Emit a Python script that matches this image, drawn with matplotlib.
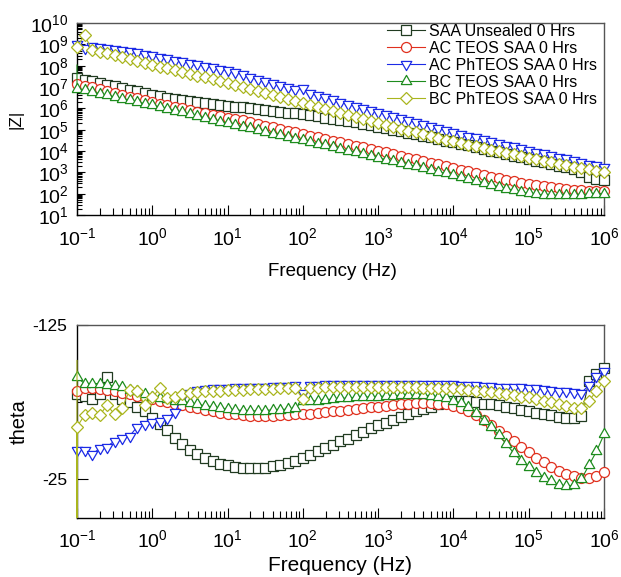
import numpy as np
import matplotlib
matplotlib.use("Agg")
import matplotlib.pyplot as plt
from matplotlib.lines import Line2D
from matplotlib.ticker import FixedLocator, NullFormatter

plt.rcParams['font.family'] = ['Liberation Sans', 'DejaVu Sans']
plt.rcParams['mathtext.fontset'] = 'custom'
plt.rcParams['mathtext.rm'] = 'Liberation Sans'
plt.rcParams['mathtext.it'] = 'Liberation Sans:italic'
plt.rcParams['mathtext.bf'] = 'Liberation Sans:bold'
plt.rcParams['axes.unicode_minus'] = False

# frequency sweep, 10 points per decade, 0.1 Hz .. 1 MHz
freq = np.logspace(-1, 6, 71)

series_labels = ['SAA Unsealed 0 Hrs', 'AC TEOS SAA 0 Hrs', 'AC PhTEOS SAA 0 Hrs',
                 'BC TEOS SAA 0 Hrs', 'BC PhTEOS SAA 0 Hrs']

# log10 |Z|
logz_saa_unsealed = [7.42, 7.35, 7.27, 7.19, 7.11, 7.03, 6.95, 6.87, 6.79, 6.70,
                     6.62, 6.56, 6.50, 6.45, 6.40, 6.35, 6.30, 6.25, 6.20, 6.16,
                     6.12, 6.08, 6.04, 6.00, 5.96, 5.92, 5.88, 5.84, 5.80, 5.76,
                     5.72, 5.67, 5.62, 5.57, 5.52, 5.46, 5.40, 5.34, 5.27, 5.20,
                     5.13, 5.06, 4.99, 4.92, 4.85, 4.78, 4.71, 4.64, 4.56, 4.49,
                     4.42, 4.34, 4.26, 4.18, 4.10, 4.02, 3.94, 3.86, 3.78, 3.70,
                     3.62, 3.55, 3.48, 3.40, 3.32, 3.24, 3.15, 3.00, 2.80, 2.68,
                     2.64]
logz_ac_teos = [7.14, 7.06, 6.98, 6.89, 6.81, 6.72, 6.64, 6.55, 6.47, 6.38,
                6.30, 6.22, 6.15, 6.07, 6.00, 5.92, 5.85, 5.78, 5.71, 5.64,
                5.57, 5.50, 5.43, 5.35, 5.27, 5.19, 5.11, 5.03, 4.95, 4.88,
                4.80, 4.72, 4.64, 4.56, 4.48, 4.41, 4.33, 4.25, 4.17, 4.10,
                4.02, 3.94, 3.85, 3.77, 3.69, 3.61, 3.53, 3.45, 3.37, 3.28,
                3.20, 3.12, 3.04, 2.96, 2.88, 2.80, 2.73, 2.66, 2.59, 2.52,
                2.45, 2.39, 2.34, 2.29, 2.25, 2.21, 2.18, 2.16, 2.14, 2.13,
                2.12]
logz_ac_phteos = [9.00, 8.82, 8.93, 8.89, 8.85, 8.80, 8.74, 8.68, 8.62, 8.55,
                  8.48, 8.41, 8.34, 8.27, 8.20, 8.13, 8.06, 7.99, 7.92, 7.85,
                  7.78, 7.69, 7.59, 7.49, 7.39, 7.29, 7.19, 7.09, 6.99, 6.90,
                  6.95, 6.72, 6.62, 6.52, 6.42, 6.32, 6.22, 6.12, 6.03, 5.93,
                  5.84, 5.74, 5.65, 5.55, 5.46, 5.37, 5.27, 5.18, 5.09, 4.99,
                  4.90, 4.81, 4.72, 4.64, 4.55, 4.47, 4.38, 4.30, 4.22, 4.13,
                  4.05, 3.97, 3.89, 3.81, 3.73, 3.65, 3.57, 3.49, 3.41, 3.33,
                  3.25]
logz_bc_teos = [6.92, 6.85, 6.77, 6.69, 6.61, 6.53, 6.46, 6.38, 6.30, 6.22,
                6.15, 6.06, 5.98, 5.89, 5.81, 5.72, 5.64, 5.55, 5.47, 5.38,
                5.30, 5.22, 5.14, 5.06, 4.98, 4.90, 4.82, 4.74, 4.66, 4.58,
                4.50, 4.42, 4.34, 4.26, 4.17, 4.09, 4.01, 3.93, 3.84, 3.76,
                3.68, 3.60, 3.52, 3.44, 3.36, 3.28, 3.19, 3.11, 3.03, 2.95,
                2.87, 2.78, 2.69, 2.60, 2.51, 2.42, 2.33, 2.24, 2.16, 2.08,
                2.01, 1.97, 1.94, 1.92, 1.92, 1.92, 1.93, 1.95, 1.97, 1.99,
                2.00]
logz_bc_phteos = [8.87, 9.44, 8.73, 8.66, 8.58, 8.49, 8.40, 8.31, 8.22, 8.13,
                  8.04, 7.96, 7.87, 7.79, 7.70, 7.62, 7.53, 7.45, 7.37, 7.28,
                  7.20, 7.11, 7.02, 6.92, 6.83, 6.74, 6.64, 6.55, 6.46, 6.36,
                  6.27, 6.17, 6.07, 5.98, 5.88, 5.78, 5.69, 5.59, 5.49, 5.40,
                  5.30, 5.21, 5.13, 5.04, 4.96, 4.87, 4.79, 4.70, 4.62, 4.53,
                  4.45, 4.37, 4.30, 4.22, 4.14, 4.07, 3.99, 3.91, 3.84, 3.76,
                  3.68, 3.61, 3.54, 3.47, 3.41, 3.34, 3.27, 3.20, 3.14, 3.07,
                  3.00]

# extra readings recorded at 0.1 Hz (drawn as line only)
logz_lead = [[], [], [], [8.03], []]

# phase angle (theta)
theta_saa_unsealed = [-80, -79, -77, -80, -91, -80, -77, -75, -72, -69,
                      -65, -61, -57, -52, -47.5, -44, -41, -38.5, -36.5, -35,
                      -34, -33, -32.5, -32, -32, -32.5, -33.5, -34.5, -35.5, -37,
                      -38.5, -40.5, -43, -45, -47, -49.5, -51, -53.5, -55.5, -58,
                      -60, -61.5, -63.5, -65.5, -67.5, -69, -70.5, -72, -73.5, -74.5,
                      -75.5, -76, -75.5, -75, -74, -73.5, -73, -72, -71, -70,
                      -69, -68, -67.5, -66.5, -65.5, -65, -65, -66, -89, -93,
                      -97]
theta_ac_teos = [-82, -84, -84, -83.5, -83, -82, -81, -80, -79, -78,
                 -77, -76, -75, -74, -73, -72, -71, -70, -69, -68,
                 -67.5, -67, -66.5, -66, -66, -66, -66, -66.5, -66.5, -67,
                 -67, -67.5, -68, -68.5, -69, -69.5, -70, -70.5, -71, -71.5,
                 -72, -72.5, -73, -73.5, -74, -74.5, -74.5, -74.5, -74, -73.5,
                 -72.5, -71, -69, -66.5, -63.5, -60, -56.5, -53, -49.5, -46,
                 -42.5, -39, -36, -33, -30.5, -28.5, -27, -26, -26, -27,
                 -29.5]
theta_ac_phteos = [-44, -44, -41, -45, -46, -50, -52, -53, -59, -61,
                   -62, -63, -64.5, -68.5, -78, -81, -83, -83.5, -84, -84,
                   -84, -84.5, -84.5, -85, -85, -85, -85.5, -85.5, -85.5, -86,
                   -81, -86, -86, -86.5, -86.5, -86.5, -86.5, -87, -87, -87,
                   -87, -87, -87, -87, -87, -87, -87, -86.5, -86.5, -86.5,
                   -86.5, -86, -86, -86, -85.5, -85.5, -85, -85, -84.5, -84.5,
                   -84, -84, -83.5, -83, -82.5, -82, -81.5, -81, -86, -92,
                   -95]
theta_bc_teos = [-91, -87, -87, -87, -86, -85.5, -84.5, -83, -82, -80,
                 -78, -77.5, -77, -76, -75.5, -74.5, -73.5, -72.5, -72, -71,
                 -70.5, -70, -69.5, -69, -69.5, -69.5, -70, -70, -70.5, -71,
                 -76, -75.5, -76, -76.5, -77, -77.5, -77.5, -78, -78, -78.5,
                 -78.5, -79, -79, -79.5, -79.5, -79.5, -79.5, -79, -78.5, -77.5,
                 -76, -74.5, -72, -68, -63, -59, -53.5, -48, -42, -37,
                 -33, -29, -26, -23.5, -21.5, -20.5, -21, -25, -34, -43,
                 -54]
theta_bc_phteos = [-59, -66.5, -68, -66.5, -73, -67, -71, -83, -82, -73,
                   -78, -84, -77.5, -78, -80, -81, -81.5, -82, -82.5, -82.5,
                   -83, -83, -83, -83.5, -83.5, -83.5, -83.5, -84, -84, -84,
                   -77, -84, -84, -84.5, -84.5, -84.5, -84.5, -84.5, -84.5, -84.5,
                   -84.5, -84.5, -84.5, -84.5, -84.5, -84.5, -84, -84, -84, -84,
                   -84, -83.5, -83, -82.5, -82, -81.5, -81, -80.5, -79.5, -78.5,
                   -78, -77, -76, -75, -74, -72.5, -71, -71, -76, -82,
                   -89]

theta_lead = [[], [], [-33], [], [-102, 0]]

logz_all = [logz_saa_unsealed, logz_ac_teos, logz_ac_phteos, logz_bc_teos, logz_bc_phteos]
theta_all = [theta_saa_unsealed, theta_ac_teos, theta_ac_phteos, theta_bc_teos, theta_bc_phteos]

# decade ticks
x_decades = [1e-1, 1e0, 1e1, 1e2, 1e3, 1e4, 1e5, 1e6]
z_decades = [1e1, 1e2, 1e3, 1e4, 1e5, 1e6, 1e7, 1e8, 1e9, 1e10]

# triangles centred on their centroid
s3 = np.sqrt(3.0)
tri_up = [(-1, -1 / s3), (1, -1 / s3), (0, 2 / s3), (-1, -1 / s3)]
tri_down = [(x, -y) for x, y in tri_up]

colors = ['#213b21', '#e0301e', '#1c2be6', '#1e8c1e', '#a9b51e']
markers = ['s', 'o', tri_down, tri_up, 'D']
msizes = [7.2, 7.2, 8.8, 8.8, 5.7]


def minor_between(decades):
    out = []
    for d in decades[:-1]:
        out += [d * m for m in range(2, 10)]
    return out


def draw_series(ax, lead, values, k):
    x = [freq[0]] * len(lead) + list(freq)
    y = list(lead) + list(values)
    ax.plot(x, y, color=colors[k], lw=0.8, marker=markers[k], ms=msizes[k],
            mfc='white', mec=colors[k], mew=0.9,
            markevery=list(range(len(lead), len(y))), clip_on=False, zorder=3)


def style_axes(ax):
    for side in ['top', 'right']:
        ax.spines[side].set_color('#555555')
    for side in ax.spines:
        ax.spines[side].set_linewidth(1.0)
    ax.tick_params(which='both', direction='in', top=False, right=False, width=0.8)
    ax.set_xscale('log')
    ax.set_xlim(0.1, 1e6)
    ax.xaxis.set_major_locator(FixedLocator(x_decades))
    ax.xaxis.set_minor_locator(FixedLocator(minor_between(x_decades)))
    ax.xaxis.set_minor_formatter(NullFormatter())
    ax.tick_params(axis='x', which='major', length=7.5, pad=8.5, labelsize=14)
    ax.tick_params(axis='x', which='minor', length=5)


fig = plt.figure(figsize=(6.21, 5.77), dpi=100)
ax1 = fig.add_axes([0.124, 0.6274, 0.8486, 0.3327])
ax2 = fig.add_axes([0.124, 0.1028, 0.8486, 0.3339])

# |Z| panel
for k in range(5):
    draw_series(ax1, [10 ** v for v in logz_lead[k]], [10 ** v for v in logz_all[k]], k)
style_axes(ax1)
ax1.set_yscale('log')
ax1.set_ylim(10, 1e10)
ax1.yaxis.set_major_locator(FixedLocator(z_decades))
ax1.yaxis.set_minor_locator(FixedLocator(minor_between(z_decades)))
ax1.yaxis.set_minor_formatter(NullFormatter())
ax1.tick_params(axis='y', which='major', length=6, pad=6, labelsize=14)
ax1.tick_params(axis='y', which='minor', length=3.5)
ax1.set_xlabel('Frequency (Hz)', fontsize=13.5)
ax1.xaxis.set_label_coords(0.485, -0.25)
ax1.set_ylabel('|Z|', fontsize=12.5)
ax1.yaxis.set_label_coords(-0.102, 0.5)

handles = [Line2D([], [], color=colors[k], lw=0.8, marker=markers[k], ms=msizes[k],
                  mfc='white', mec=colors[k], mew=0.9) for k in range(5)]
ax1.legend(handles, series_labels, loc='upper left', bbox_to_anchor=(0.588, 0.995),
           frameon=False, fontsize=11.5, handlelength=2.4, handletextpad=0.25,
           labelspacing=0.12, borderpad=0, borderaxespad=0)

# theta panel
for k in range(5):
    draw_series(ax2, theta_lead[k], theta_all[k], k)
style_axes(ax2)
ax2.set_ylim(0, -125)
ax2.yaxis.set_major_locator(FixedLocator([-125, -25]))
ax2.yaxis.set_minor_locator(FixedLocator([-75]))
ax2.tick_params(axis='y', which='major', length=7.7, pad=7, labelsize=12.5)
ax2.tick_params(axis='y', which='minor', length=3.6)
ax2.set_xlabel('Frequency (Hz)', fontsize=15)
ax2.xaxis.set_label_coords(0.5, -0.199)
ax2.set_ylabel('theta', fontsize=14.5)
ax2.yaxis.set_label_coords(-0.091, 0.5)

fig.savefig('out.png', dpi=100)
